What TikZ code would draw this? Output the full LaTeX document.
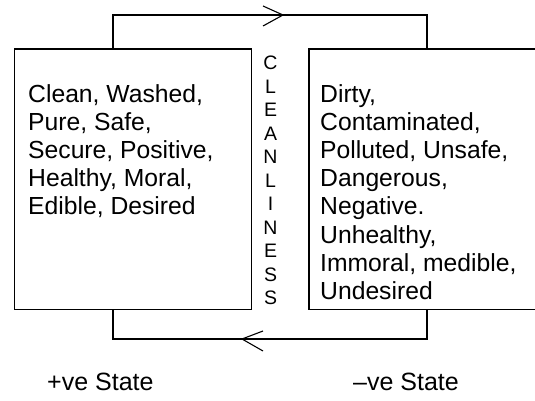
\documentclass[tikz,border=0pt]{standalone}
\usepackage{fontspec}
\setmainfont{Liberation Sans}
\usetikzlibrary{calc}
\begin{document}
\begin{tikzpicture}[x=1pt,y=-1pt,
  box/.style={draw,line width=1.6pt,rectangle,inner sep=0pt,anchor=north west},
  words/.style={anchor=north west,align=left,inner sep=0pt,font=\fontsize{24.7}{28.2}\selectfont},
  loopline/.style={line width=1.6pt},
  tipline/.style={line width=1.1pt},
  stateword/.style={font=\fontsize{25}{30}\selectfont,inner sep=0pt}]
\clip (0,0) rectangle (535,401);
\useasboundingbox (0,0) rectangle (535,401);
% boxes
\node[box,minimum width=237pt,minimum height=260pt] (lbox) at (13.5,48.5) {};
\node[box,minimum width=240pt,minimum height=260pt] (rbox) at (308,48.5) {};
% texts
\node[words] (ltext) at (28,84) {Clean, Washed,\\Pure, Safe,\\Secure, Positive,\\Healthy, Moral,\\Edible, Desired};
\node[words] (rtext) at (320,84) {Dirty,\\Contaminated,\\Polluted, Unsafe,\\Dangerous,\\Negative.\\Unhealthy,\\Immoral, medible,\\Undesired};
\node[anchor=north,inner sep=0pt,align=center,font=\fontsize{19.5}{23.5}\selectfont] (cl) at (270.5,56) {C\\L\\E\\A\\N\\L\\I\\N\\E\\S\\S};
% loops
\coordinate (tl) at (113,15);
\coordinate (tr) at (427,15);
\coordinate (bl) at (113,339);
\coordinate (br) at (427,339);
\draw[loopline] (lbox.north -| tl) -- (tl) -- (tr) -- (rbox.north -| tr);
\draw[loopline] (lbox.south -| bl) -- (bl) -- (br) -- (rbox.south -| br);
% top arrow
\coordinate (ta) at (283,15);
\coordinate (tb) at (228,15);
\draw[line width=2.2pt] (tb) -- (ta);
\draw[tipline] ($(ta)+(-20,-9)$) -- (ta) -- ($(ta)+(-20,11)$);
% bottom arrow
\coordinate (ba) at (242,339);
\coordinate (bb) at (297,339);
\draw[line width=2.2pt] (bb) -- (ba);
\draw[tipline] ($(ba)+(21,-8)$) -- (ba) -- ($(ba)+(21,12)$);
% states
\node[stateword,anchor=base west] (pos) at (47,390) {+ve State};
\node[stateword,anchor=base west] (neg) at (353,390) {–ve State};
\end{tikzpicture}
\end{document}
